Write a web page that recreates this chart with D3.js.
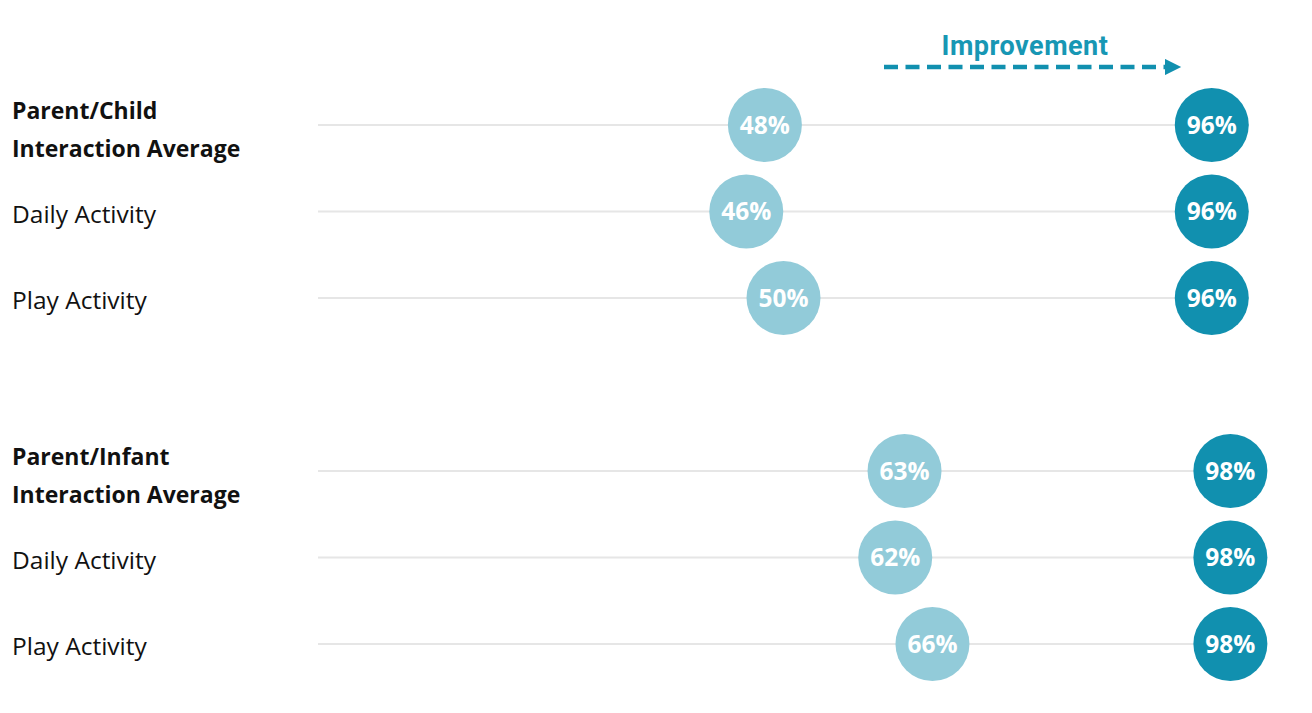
<!DOCTYPE html>
<html>
<head>
<meta charset="utf-8">
<script src="https://cdn.jsdelivr.net/npm/d3@7"></script>
<style>
  html, body { margin: 0; padding: 0; background: #ffffff; }
</style>
</head>
<body>
<div id="chart"></div>
<script>
// Dumbbell chart: before vs after scores per activity
const width = 1312;
const height = 713;

// rows (null = spacer between the two groups)
const rowLabels = [
  ['Parent/Child', 'Interaction Average'],
  ['Daily Activity'],
  ['Play Activity'],
  null,
  ['Parent/Infant', 'Interaction Average'],
  ['Daily Activity'],
  ['Play Activity']
];
const rowBold = [true, false, false, false, true, false, false];
const beforeValues = [48, 46, 50, null, 63, 62, 66];
const afterValues  = [96, 96, 96, null, 98, 98, 98];

const LIGHT = '#92CBD9';
const DARK  = '#1190AF';
const R = 37;
const FONT = '"Open Sans", "Noto Sans", sans-serif';

const x = d3.scaleLinear().domain([0, 100]).range([318, 1249]);
const y = d3.scalePoint().domain(d3.range(rowLabels.length)).range([125, 644]);

const svg = d3.select('#chart')
  .append('svg')
  .attr('width', width)
  .attr('height', height);

// Improvement arrow
const defs = svg.append('defs');
defs.append('marker')
  .attr('id', 'arrow')
  .attr('viewBox', '0 0 10 10')
  .attr('refX', 0)
  .attr('refY', 5)
  .attr('markerWidth', 4)
  .attr('markerHeight', 3.6)
  .attr('markerUnits', 'strokeWidth')
  .attr('orient', 'auto')
  .append('path')
  .attr('d', 'M 0 0 L 10 5 L 0 10 Z')
  .attr('fill', DARK);

svg.append('line')
  .attr('x1', 884).attr('y1', 67)
  .attr('x2', 1165).attr('y2', 67)
  .attr('stroke', DARK)
  .attr('stroke-width', 4.5)
  .attr('stroke-dasharray', '14 7.5')
  .attr('marker-end', 'url(#arrow)');

svg.append('text')
  .attr('x', 1025)
  .attr('y', 55)
  .attr('text-anchor', 'middle')
  .attr('fill', '#1797B4')
  .attr('font-family', 'Roboto, sans-serif')
  .attr('font-weight', 700)
  .attr('font-size', 27)
  .attr('letter-spacing', 0.5)
  .text('Improvement');

const rows = svg.append('g');
rowLabels.forEach(function(lbl, i) {
  if (!lbl) return;
  const cy = y(i);

  // track line
  rows.append('line')
    .attr('x1', x(0)).attr('x2', x(100))
    .attr('y1', cy).attr('y2', cy)
    .attr('stroke', '#E6E6E6')
    .attr('stroke-width', 2);

  // label
  const t = rows.append('text')
    .attr('x', 12)
    .attr('fill', '#111111')
    .attr('font-family', FONT)
    .attr('font-weight', rowBold[i] ? 700 : 400)
    .attr('font-size', rowBold[i] ? 23 : 24.5);
  if (lbl.length === 2) {
    t.append('tspan').attr('x', 12).attr('y', cy - 6).text(lbl[0]);
    t.append('tspan').attr('x', 12).attr('y', cy + 32).text(lbl[1]);
  } else {
    t.attr('y', cy + 11).text(lbl[0]);
  }

  // dots
  [[beforeValues[i], LIGHT], [afterValues[i], DARK]].forEach(function(d) {
    rows.append('circle')
      .attr('cx', x(d[0]))
      .attr('cy', cy)
      .attr('r', R)
      .attr('fill', d[1]);
    rows.append('text')
      .attr('x', x(d[0]))
      .attr('y', cy + 8.5)
      .attr('text-anchor', 'middle')
      .attr('fill', '#ffffff')
      .attr('font-family', FONT)
      .attr('font-weight', 700)
      .attr('font-size', 24.5)
      .text(d[0] + '%');
  });
});
</script>
</body>
</html>
